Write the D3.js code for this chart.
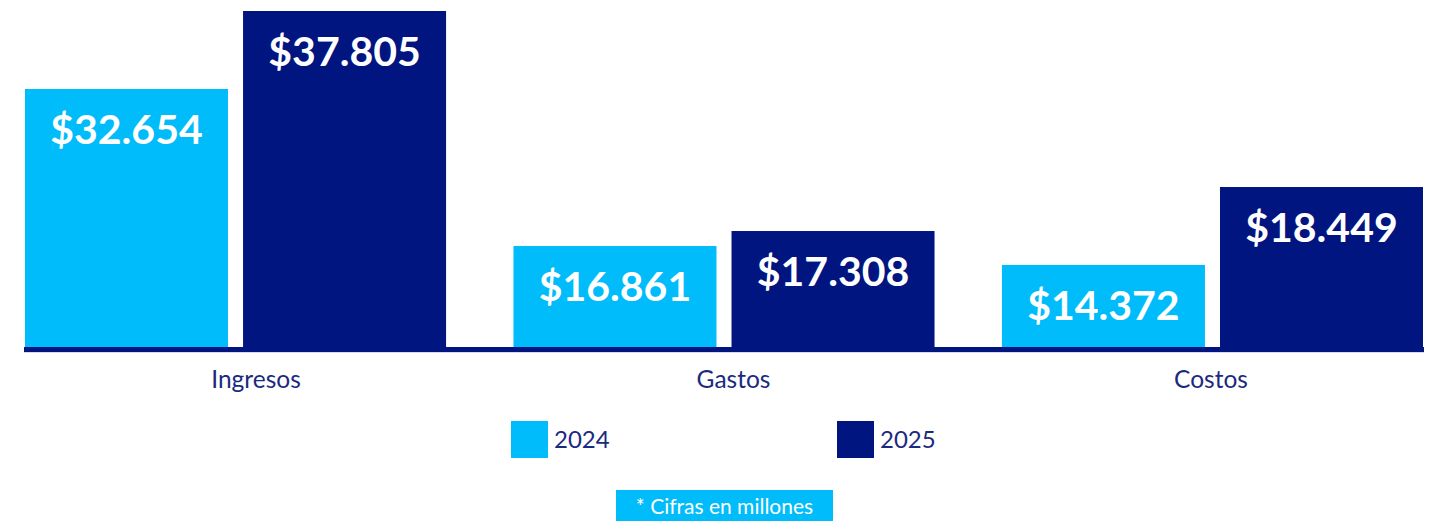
<!DOCTYPE html>
<html>
<head>
<meta charset="utf-8">
<script src="https://cdn.jsdelivr.net/npm/d3@7"></script>
<style>
  body { margin: 0; background: #fff; }
  text { font-family: Lato, "Open Sans", sans-serif; }
</style>
</head>
<body>
<script>
const w = 1429;
const h = 521;

const categories = ["Ingresos", "Gastos", "Costos"];
const years = ["2024", "2025"];

// figures printed on the bars (millones)
const values2024 = [32654, 16861, 14372];
const values2025 = [37805, 17308, 18449];

// the original bars are not drawn to scale: lengths
const drawn2024 = [29030, 11360, 9230];
const drawn2025 = [37805, 13050, 18000];

const colors = ["#00bcfa", "#00157f"];
const textColor = "#1b2a80";

const svg = d3.select("body").
append("svg").
attr("width", w).
attr("height", h);

// scales
const x0 = d3.scaleBand().
domain(categories).
range([25, 1423]).
paddingInner(0.138).
paddingOuter(0);

const x1 = d3.scaleBand().
domain(years).
range([0, x0.bandwidth()]).
paddingInner(0.069);

const y = d3.scaleLinear().
domain([0, 37805]).
range([347, 11]);

// category labels sit a little off the group centres in the original
const xLabel = d3.scalePoint().
domain(categories).
range([256, 1211]);

const rows = categories.map((c, i) => ({
  cat: c,
  bars: [
  { year: years[0], value: values2024[i], drawn: drawn2024[i] },
  { year: years[1], value: values2025[i], drawn: drawn2025[i] }] }));

const fmt = v => "$" + d3.format(",")(v).replace(/,/g, ".");

const groups = svg.selectAll("g.group").
data(rows).
enter().
append("g").
attr("class", "group").
attr("transform", d => "translate(" + x0(d.cat) + ",0)");

groups.selectAll("rect").
data(d => d.bars).
enter().
append("rect").
attr("x", d => x1(d.year)).
attr("y", d => y(d.drawn)).
attr("width", x1.bandwidth()).
attr("height", d => y(0) - y(d.drawn)).
attr("fill", (d, i) => colors[i]);

groups.selectAll("text.value").
data(d => d.bars).
enter().
append("text").
attr("class", "value").
attr("x", d => x1(d.year) + x1.bandwidth() / 2).
attr("y", d => y(d.drawn) + 55).
attr("text-anchor", "middle").
attr("fill", "#fff").
style("font-size", "41px").
style("font-weight", 700).
text(d => fmt(d.value));

// baseline
svg.append("line").
attr("x1", 24).
attr("x2", 1424).
attr("y1", y(0) + 2.5).
attr("y2", y(0) + 2.5).
attr("stroke", colors[1]).
attr("stroke-width", 5);

svg.append("line").
attr("x1", 24).
attr("x2", 1424).
attr("y1", y(0) + 5.5).
attr("y2", y(0) + 5.5).
attr("stroke", "#d5d9e8").
attr("stroke-width", 1);

// category labels
svg.selectAll("text.cat").
data(categories).
enter().
append("text").
attr("class", "cat").
attr("x", d => xLabel(d)).
attr("y", 388).
attr("text-anchor", "middle").
attr("fill", textColor).
style("font-size", "24.5px").
text(d => d);

// legend
const legendX = d3.scalePoint().
domain(years).
range([511, 837]);

const legend = svg.selectAll("g.legend").
data(years).
enter().
append("g").
attr("class", "legend").
attr("transform", d => "translate(" + legendX(d) + ",421)");

legend.append("rect").
attr("width", 37).
attr("height", 37).
attr("fill", (d, i) => colors[i]);

legend.append("text").
attr("x", 43).
attr("y", 27).
attr("fill", textColor).
style("font-size", "24px").
text(d => d);

// footnote
svg.append("rect").
attr("x", 616).
attr("y", 490).
attr("width", 217).
attr("height", 31).
attr("fill", colors[0]);

svg.append("text").
attr("x", 724.5).
attr("y", 514).
attr("text-anchor", "middle").
attr("fill", "#fff").
style("font-size", "21px").
text("* Cifras en millones");
</script>
</body>
</html>
